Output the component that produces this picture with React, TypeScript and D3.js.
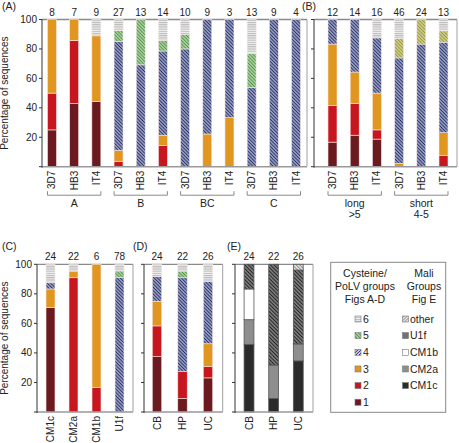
import React from "react";
import * as d3 from "d3";

const KEYS = ["g1", "g2", "g3", "g4", "g5", "g6"];
const EKEYS = ["CM1c", "CM2a", "CM1b", "U1f", "other"];

// Panel A
const catsA = ["3D7", "HB3", "IT4", "3D7", "HB3", "IT4", "3D7", "HB3", "IT4", "3D7", "HB3", "IT4"];
const nA = [8, 7, 9, 27, 13, 14, 10, 9, 3, 13, 9, 4];
const a1 = [25, 42.9, 44.4, 0, 0, 0, 0, 0, 0, 0, 0, 0];
const a2 = [25, 42.8, 0, 3.7, 0, 14.3, 0, 0, 0, 0, 0, 0];
const a3 = [50, 14.3, 44.5, 7.4, 0, 7.1, 0, 22.2, 33.3, 0, 0, 0];
const a4 = [0, 0, 0, 74.1, 69.2, 57.2, 80, 77.8, 66.7, 53.8, 100, 100];
const a5 = [0, 0, 0, 7.4, 30.8, 7.1, 10, 0, 0, 23.1, 0, 0];
const a6 = [0, 0, 11.1, 7.4, 0, 14.3, 10, 0, 0, 23.1, 0, 0];
const groupsA = [
  { from: 0, to: 2, lines: ["A"] },
  { from: 3, to: 5, lines: ["B"] },
  { from: 6, to: 8, lines: ["BC"] },
  { from: 9, to: 11, lines: ["C"] },
];

// Panel B
const catsB = ["3D7", "HB3", "IT4", "3D7", "HB3", "IT4"];
const nB = [12, 14, 16, 46, 24, 13];
const b1 = [16.7, 21.4, 18.75, 0, 0, 0];
const b2 = [25, 21.5, 6.25, 0, 0, 7.7];
const b3 = [41.6, 21.4, 25, 2.2, 0, 15.4];
const b4 = [16.7, 35.7, 37.5, 71.7, 83.3, 61.5];
const b5 = [0, 0, 0, 13.1, 16.7, 7.7];
const b6 = [0, 0, 12.5, 13.0, 0, 7.7];
const groupsB = [
  { from: 0, to: 2, lines: ["long", ">5"] },
  { from: 3, to: 5, lines: ["short", "4-5"] },
];

// Panel C
const catsC = ["CM1c", "CM2a", "CM1b", "U1f"];
const nC = [24, 22, 6, 78];
const c1 = [70.8, 0, 0, 0];
const c2 = [0, 90.9, 16.7, 0];
const c3 = [12.5, 4.5, 83.3, 0];
const c4 = [4.2, 0, 0, 91.0];
const c5 = [0, 0, 0, 4.5];
const c6 = [12.5, 4.6, 0, 4.5];

// Panel D
const catsD = ["CB", "HP", "UC"];
const nD = [24, 22, 26];
const d1 = [37.5, 9.1, 23.1];
const d2 = [20.8, 18.2, 7.7];
const d3v = [16.7, 0, 15.4];
const d4 = [16.7, 63.6, 42.3];
const d5 = [0, 4.5, 0];
const d6 = [8.3, 4.6, 11.5];

// Panel E
const catsE = ["CB", "HP", "UC"];
const nE = [24, 22, 26];
const eCM1c = [45.8, 9.1, 34.6];
const eCM2a = [16.7, 22.7, 11.5];
const eCM1b = [20.8, 0, 0];
const eU1f = [16.7, 68.2, 50.0];
const eOther = [0, 0, 3.9];

const yTicks = [0, 20, 40, 60, 80, 100];

const legendLeft = ["6", "5", "4", "3", "2", "1"];
const legendRight = ["other", "U1f", "CM1b", "CM2a", "CM1c"];

const FONT = "'Liberation Sans', Arial, sans-serif";

const fillsAD: Record<string, string> = {
  g1: "#6b1a1f",
  g2: "#c8161f",
  g3: "#e0961f",
  g4: "url(#p4)",
  g5: "url(#p5)",
  g6: "url(#p6)",
};
const fillsB: Record<string, string> = { ...fillsAD, g5: "url(#p5b)" };
const fillsE: Record<string, string> = {
  CM1c: "#2b2b2b",
  CM2a: "#8e8e8e",
  CM1b: "#ffffff",
  U1f: "url(#pU1f)",
  other: "url(#pOther)",
};

type Group = { from: number; to: number; lines: string[] };
type PanelDef = {
  label: string;
  labelPos: [number, number];
  frame: [number, number];
  band: [number, number];
  top: number;
  bottom: number;
  pad: number;
  cats: string[];
  n: number[];
  series: number[][];
  keys: string[];
  fills: Record<string, string>;
  tickLabels: boolean;
  groups?: Group[];
  segStroke: string;
  segStrokeW: number;
  yLabel: boolean;
};

const panels: PanelDef[] = [
  {
    label: "(A)", labelPos: [2, 10], frame: [42, 307], band: [40.9, 307.1], top: 19.5, bottom: 166.7, pad: 0.595,
    cats: catsA, n: nA, series: [a1, a2, a3, a4, a5, a6], keys: KEYS, fills: fillsAD, tickLabels: true,
    groups: groupsA, segStroke: "#f6e6e6", segStrokeW: 0.6, yLabel: true,
  },
  {
    label: "(B)", labelPos: [302, 10], frame: [314, 457], band: [321.4, 454.6], top: 19.5, bottom: 166.7, pad: 0.595,
    cats: catsB, n: nB, series: [b1, b2, b3, b4, b5, b6], keys: KEYS, fills: fillsB, tickLabels: false,
    groups: groupsB, segStroke: "#f6e6e6", segStrokeW: 0.6, yLabel: false,
  },
  {
    label: "(C)", labelPos: [2, 250], frame: [37, 133], band: [39, 131], top: 264.3, bottom: 412, pad: 0.61,
    cats: catsC, n: nC, series: [c1, c2, c3, c4, c5, c6], keys: KEYS, fills: fillsAD, tickLabels: true,
    segStroke: "#f6e6e6", segStrokeW: 0.6, yLabel: true,
  },
  {
    label: "(D)", labelPos: [133, 250], frame: [144, 222.7], band: [144.25, 220.75], top: 264.3, bottom: 412, pad: 0.63,
    cats: catsD, n: nD, series: [d1, d2, d3v, d4, d5, d6], keys: KEYS, fills: fillsAD, tickLabels: false,
    segStroke: "#f6e6e6", segStrokeW: 0.6, yLabel: false,
  },
  {
    label: "(E)", labelPos: [227, 250], frame: [235, 313], band: [236.7, 310.6], top: 264.3, bottom: 412, pad: 0.6,
    cats: catsE, n: nE, series: [eCM1c, eCM2a, eCM1b, eU1f, eOther], keys: EKEYS, fills: fillsE, tickLabels: false,
    segStroke: "#555", segStrokeW: 0.8, yLabel: false,
  },
];

function Panel({ p }: { p: PanelDef }) {
  const idx = p.cats.map((_, i) => String(i));
  const x = d3.scaleBand<string>().domain(idx).range(p.band).paddingInner(p.pad).paddingOuter(p.pad / 2);
  const y = d3.scaleLinear().domain([0, 100]).range([p.bottom, p.top]);
  const rows = p.cats.map((_, i) => {
    const r: Record<string, number> = {};
    p.keys.forEach((k, j) => (r[k] = p.series[j][i]));
    return r;
  });
  const stacked = d3.stack<Record<string, number>>().keys(p.keys)(rows);
  const bw = x.bandwidth();
  const [fx0, fx1] = p.frame;
  const midY = (p.top + p.bottom) / 2;
  return (
    <g>
      <text x={p.labelPos[0]} y={p.labelPos[1]} fontSize={10.5} fontFamily={FONT} fill="#222">
        {p.label}
      </text>
      <line x1={fx0} x2={fx1} y1={p.top} y2={p.top} stroke="#8a8a8a" strokeWidth={1.3} />
      <line x1={fx1} x2={fx1} y1={p.top} y2={p.bottom} stroke="#a0a0a0" strokeWidth={1} />
      {stacked.map((s) => (
        <g key={s.key}>
          {s.map((d, i) =>
            d[1] - d[0] > 0 ? (
              <rect
                key={i}
                x={x(String(i))}
                width={bw}
                y={y(d[1])}
                height={y(d[0]) - y(d[1])}
                fill={p.fills[s.key]}
                stroke={p.segStroke}
                strokeWidth={p.segStrokeW}
              />
            ) : null
          )}
        </g>
      ))}
      <line x1={fx0} x2={fx1} y1={p.bottom} y2={p.bottom} stroke="#999" strokeWidth={1.6} />
      <line x1={fx0} x2={fx0} y1={p.top} y2={p.bottom + 1} stroke="#333" strokeWidth={1} />
      {yTicks.map((t) => (
        <g key={t}>
          <line x1={fx0 - 3} x2={fx0} y1={y(t)} y2={y(t)} stroke="#333" strokeWidth={1} />
          {p.tickLabels && t > 0 ? (
            <text x={fx0 - 5} y={y(t)} dy="0.35em" textAnchor="end" fontSize={10} fontFamily={FONT} fill="#222">
              {t}
            </text>
          ) : null}
        </g>
      ))}
      {p.yLabel ? (
        <text
          transform={`translate(${7.5},${midY}) rotate(-90)`}
          textAnchor="middle"
          fontSize={10}
          fontFamily={FONT}
          fill="#222"
        >
          Percentage of sequences
        </text>
      ) : null}
      {p.n.map((v, i) => (
        <text
          key={i}
          x={(x(String(i)) as number) + bw / 2}
          y={p.top - 4}
          textAnchor="middle"
          fontSize={10}
          fontFamily={FONT}
          fill="#222"
        >
          {v}
        </text>
      ))}
      {p.cats.map((c, i) => (
        <text
          key={i}
          transform={`translate(${(x(String(i)) as number) + bw / 2},${p.bottom + 4}) rotate(-90)`}
          textAnchor="end"
          dy="0.35em"
          fontSize={10}
          fontFamily={FONT}
          fill="#222"
        >
          {c}
        </text>
      ))}
      {p.groups
        ? p.groups.map((g, gi) => {
            const gx0 = x(String(g.from)) as number;
            const gx1 = (x(String(g.to)) as number) + bw;
            const by = p.bottom + 28.5;
            return (
              <g key={gi}>
                <path
                  d={`M${gx0},${by - 4}V${by}H${gx1}V${by - 4}`}
                  fill="none"
                  stroke="#8a8a8a"
                  strokeWidth={1}
                />
                {g.lines.map((l, li) => (
                  <text
                    key={li}
                    x={(gx0 + gx1) / 2}
                    y={by + 12 + li * 11}
                    textAnchor="middle"
                    fontSize={10.5}
                    fontFamily={FONT}
                    fill="#222"
                  >
                    {l}
                  </text>
                ))}
              </g>
            );
          })
        : null}
    </g>
  );
}

function Legend() {
  const lx = 330.7;
  const ly = 262.3;
  const lw = 115;
  const lh = 150;
  const leftFill: Record<string, string> = {
    "6": "url(#p6)",
    "5": "url(#p5)",
    "4": "url(#p4s)",
    "3": fillsAD.g3,
    "2": fillsAD.g2,
    "1": fillsAD.g1,
  };
  const rightFill: Record<string, string> = {
    other: "url(#pOtherS)",
    U1f: "url(#pU1fS)",
    CM1b: fillsE.CM1b,
    CM2a: fillsE.CM2a,
    CM1c: fillsE.CM1c,
  };
  const rowY = (i: number) => 319 + i * 16.65;
  return (
    <g fontFamily={FONT} fontSize={10.5} fill="#222">
      <rect x={lx} y={ly} width={lw} height={lh} fill="#fff" stroke="#888" strokeWidth={1} />
      {["Cysteine/", "PoLV groups", "Figs A-D"].map((t, i) => (
        <text key={t} x={365} y={277 + i * 13} textAnchor="middle">
          {t}
        </text>
      ))}
      {["Mali", "Groups", "Fig E"].map((t, i) => (
        <text key={t} x={424} y={277 + i * 13} textAnchor="middle">
          {t}
        </text>
      ))}
      {legendLeft.map((t, i) => (
        <g key={t}>
          <rect x={355} y={rowY(i) - 3} width={6} height={6} fill={leftFill[t]} stroke="#777" strokeWidth={0.6} />
          <text x={363} y={rowY(i)} dy="0.35em">
            {t}
          </text>
        </g>
      ))}
      {legendRight.map((t, i) => (
        <g key={t}>
          <rect x={402.5} y={rowY(i) - 3} width={6} height={6} fill={rightFill[t]} stroke="#777" strokeWidth={0.6} />
          <text x={410} y={rowY(i)} dy="0.35em">
            {t}
          </text>
        </g>
      ))}
    </g>
  );
}

function hatch(id: string, bg: string, fg: string, size: number, w: number, angle: number) {
  return (
    <pattern
      id={id}
      patternUnits="userSpaceOnUse"
      width={size}
      height={size}
      patternTransform={`rotate(${angle})`}
    >
      <rect width={size} height={size} fill={bg} />
      <line x1={size / 2} y1={0} x2={size / 2} y2={size} stroke={fg} strokeWidth={w} />
    </pattern>
  );
}

export default function App() {
  return (
    <svg width={459} height={443} style={{ position: "absolute", left: 0, top: 0, background: "#fff" }}>
      <defs>
        {hatch("p4", "#e6e8f2", "#26306e", 2.4, 1.5, -45)}
        {hatch("p4s", "#eef0f8", "#2b3577", 2.2, 1.0, 45)}
        {hatch("p5", "#dcecd4", "#4f9544", 2.4, 1.4, -45)}
        {hatch("p5b", "#ecebc8", "#95952e", 2.4, 1.4, -45)}
        {hatch("pU1f", "#a0a0a0", "#222", 2.6, 1.4, -45)}
        {hatch("pU1fS", "#b0b0b0", "#262626", 2.0, 0.9, -45)}
        {hatch("pOther", "#f2f2f2", "#8a8a8a", 2.6, 1.2, -45)}
        {hatch("pOtherS", "#f2f2f2", "#8a8a8a", 2.2, 0.9, 45)}
        <pattern id="p6" patternUnits="userSpaceOnUse" width={4} height={2.2}>
          <rect width={4} height={2.2} fill="#f2f2f2" />
          <line x1={0} x2={4} y1={0.6} y2={0.6} stroke="#b4b4b4" strokeWidth={1} />
        </pattern>
      </defs>
      {panels.map((p) => (
        <Panel key={p.label} p={p} />
      ))}
      <Legend />
    </svg>
  );
}
